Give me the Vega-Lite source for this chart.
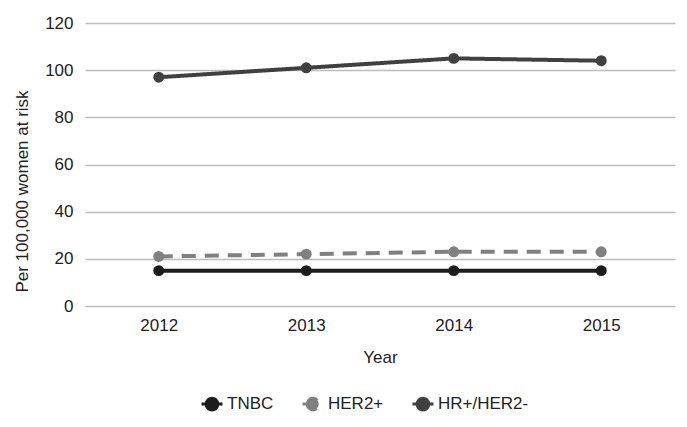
{
  "$schema": "https://vega.github.io/schema/vega-lite/v6.json",
  "autosize": "none",
  "width": 590,
  "height": 283,
  "padding": {"left": 85, "top": 23, "right": 12, "bottom": 121},
  "background": "white",
  "config": {
    "font": "Liberation Sans",
    "view": {"stroke": null},
    "axis": {"labelFont": "Liberation Sans", "titleFont": "Liberation Sans", "labelColor": "#222", "titleColor": "#222", "titleFontWeight": "normal"}
  },
  "data": {
    "values": [
      {"Year": "2012", "series": "TNBC", "value": 15},
      {"Year": "2013", "series": "TNBC", "value": 15},
      {"Year": "2014", "series": "TNBC", "value": 15},
      {"Year": "2015", "series": "TNBC", "value": 15},
      {"Year": "2012", "series": "HER2+", "value": 21},
      {"Year": "2013", "series": "HER2+", "value": 22},
      {"Year": "2014", "series": "HER2+", "value": 23},
      {"Year": "2015", "series": "HER2+", "value": 23},
      {"Year": "2012", "series": "HR+/HER2-", "value": 97},
      {"Year": "2013", "series": "HR+/HER2-", "value": 101},
      {"Year": "2014", "series": "HR+/HER2-", "value": 105},
      {"Year": "2015", "series": "HR+/HER2-", "value": 104}
    ]
  },
  "encoding": {
    "x": {
      "field": "Year", "type": "ordinal",
      "scale": {"type": "point", "padding": 0.5},
      "axis": {"labelAngle": 0, "domain": false, "ticks": false, "labelFontSize": 17, "labelPadding": 11, "title": "Year", "titleFontSize": 17, "titlePadding": 16, "grid": false}
    },
    "y": {
      "field": "value", "type": "quantitative",
      "scale": {"domain": [0, 120]},
      "axis": {"values": [0, 20, 40, 60, 80, 100, 120], "domain": false, "ticks": false, "labelFontSize": 17, "labelPadding": 12, "grid": true, "gridColor": "#bdbdbd", "gridWidth": 1.5, "title": "Per 100,000 women at risk", "titleFontSize": 17, "titleX": -63, "titleY": 168, "titleBaseline": "middle", "titleAlign": "center", "titleAngle": 270}
    },
    "color": {
      "field": "series", "type": "nominal",
      "scale": {"domain": ["TNBC", "HER2+", "HR+/HER2-"], "range": ["#1c1c1c", "#808080", "#404040"]},
      "legend": {
        "title": null, "orient": "none", "direction": "horizontal", "legendX": 115, "legendY": 369,
        "labelFontSize": 17, "labelColor": "#222", "labelFont": "Liberation Sans",
        "symbolType": "M-1,0L1,0M-0.55,0A0.55,0.55 0 1,1 0.55,0A0.55,0.55 0 1,1 -0.55,0Z",
        "symbolSize": 440, "symbolStrokeWidth": 3, "columnPadding": 22, "labelOffset": 3
      }
    }
  },
  "layer": [
    {
      "mark": {"type": "line", "strokeWidth": 4},
      "encoding": {
        "strokeDash": {
          "field": "series", "type": "nominal",
          "scale": {"domain": ["TNBC", "HER2+", "HR+/HER2-"], "range": [[1, 0], [14, 9], [1, 0]]},
          "legend": null
        }
      }
    },
    {
      "mark": {"type": "point", "filled": true, "size": 120, "opacity": 1},
      "encoding": {}
    }
  ]
}
